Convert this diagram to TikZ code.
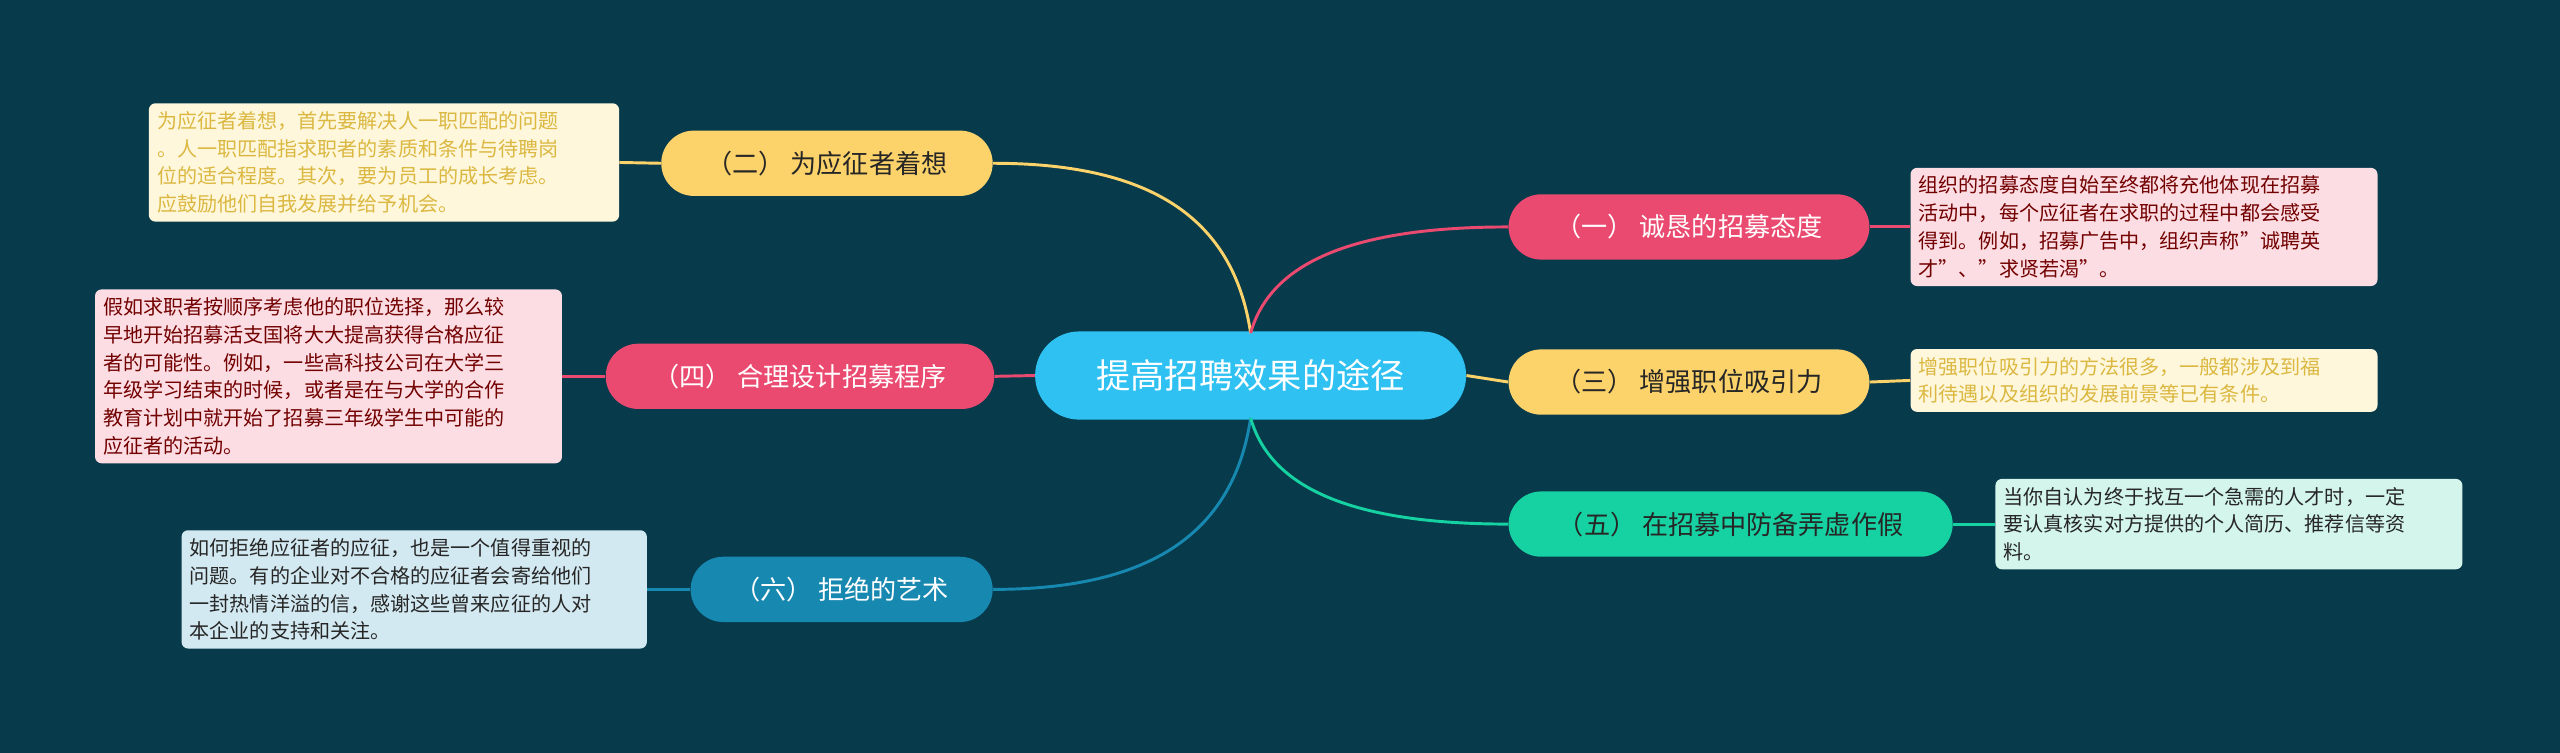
\documentclass[tikz,border=0pt]{standalone}
\usepackage{fontspec}
\setmainfont{Noto Sans CJK SC}
\begin{document}
\begin{tikzpicture}[x=1pt,y=-1pt,
  branch/.style={rounded corners=20pt,minimum height=40pt,font=\fontsize{16}{18}\selectfont,inner xsep=0pt},
  desc/.style={rounded corners=4pt,align=left,font=\fontsize{12.3}{17}\selectfont,inner sep=5pt,anchor=west},
  link/.style={line width=1.8pt}]
\definecolor{bg}{HTML}{073A4B}
\definecolor{cy}{HTML}{2EC1F2}
\definecolor{ye}{HTML}{FCD26A}
\definecolor{re}{HTML}{EA4A6F}
\definecolor{bl}{HTML}{1788B0}
\definecolor{gr}{HTML}{16D1A1}
\definecolor{yel}{HTML}{FFF7DC}
\definecolor{rel}{HTML}{FBDDE3}
\definecolor{bll}{HTML}{D3E9F1}
\definecolor{grl}{HTML}{D3F5EC}
\fill[bg] (0,0) rectangle (1568,461);
\useasboundingbox (0,0) rectangle (1568,461);
% center
\node[fill=cy,rounded corners=27pt,minimum width=264pt,minimum height=54pt,text=white,font=\fontsize{21}{24}\selectfont] (c) at (766,230) {提高招聘效果的途径};
\coordinate (ct) at (766,204);
\coordinate (cb) at (766,256);
% branches
\node[branch,fill=ye,minimum width=203pt,text=black!85] (b2) at (506.5,100) {（二） 为应征者着想};
\node[branch,fill=re,minimum width=238pt,text=white] (b4) at (490,230.5) {（四） 合理设计招募程序};
\node[branch,fill=bl,minimum width=185pt,text=white] (b6) at (515.5,361) {（六） 拒绝的艺术};
\node[branch,fill=re,minimum width=221pt,text=white] (b1) at (1034.5,139) {（一） 诚恳的招募态度};
\node[branch,fill=ye,minimum width=221pt,text=black!85] (b3) at (1034.5,234) {（三） 增强职位吸引力};
\node[branch,fill=gr,minimum width=272pt,text=black!85] (b5) at (1060,321) {（五） 在招募中防备弄虚作假};
% descriptions
\node[desc,fill=yel,text=yellow!40!brown,text width=278pt] (d2) at (91,99.5) {为应征者着想，首先要解决人一职匹配的问题\\。人一职匹配指求职者的素质和条件与待聘岗\\位的适合程度。其次，要为员工的成长考虑。\\应鼓励他们自我发展并给予机会。};
\node[desc,fill=rel,text=red!45!black,text width=276pt] (d4) at (58,230.5) {假如求职者按顺序考虑他的职位选择，那么较\\早地开始招募活支国将大大提高获得合格应征\\者的可能性。例如，一些高科技公司在大学三\\年级学习结束的时候，或者是在与大学的合作\\教育计划中就开始了招募三年级学生中可能的\\应征者的活动。};
\node[desc,fill=bll,text=black!85,text width=275pt] (d6) at (111,361) {如何拒绝应征者的应征，也是一个值得重视的\\问题。有的企业对不合格的应征者会寄给他们\\一封热情洋溢的信，感谢这些曾来应征的人对\\本企业的支持和关注。};
\node[desc,fill=rel,text=red!45!black,text width=276pt] (d1) at (1170,139) {组织的招募态度自始至终都将充他体现在招募\\活动中，每个应征者在求职的过程中都会感受\\得到。例如，招募广告中，组织声称"诚聘英\\才"、"求贤若渴"。};
\node[desc,fill=yel,text=yellow!40!brown,text width=276pt] (d3) at (1170,233) {增强职位吸引力的方法很多，一般都涉及到福\\利待遇以及组织的发展前景等已有条件。};
\node[desc,fill=grl,text=black!85,text width=276pt] (d5) at (1222,321) {当你自认为终于找互一个急需的人才时，一定\\要认真核实对方提供的个人简历、推荐信等资\\料。};
% links
\draw[link,ye] (ct) .. controls (755,130) and (700,100) .. (b2.east);
\draw[link,re] (c.west) -- (b4.east);
\draw[link,bl] (cb) .. controls (755,330) and (700,361) .. (b6.east);
\draw[link,re] (ct) .. controls (777,165) and (820,139) .. (b1.west);
\draw[link,ye] (c.east) -- (b3.west);
\draw[link,gr] (cb) .. controls (777,295) and (820,321) .. (b5.west);
\draw[link,ye] (b2.west) -- (d2.east);
\draw[link,re] (b4.west) -- (d4.east);
\draw[link,bl] (b6.west) -- (d6.east);
\draw[link,re] (b1.east) -- (d1.west);
\draw[link,ye] (b3.east) -- (d3.west);
\draw[link,gr] (b5.east) -- (d5.west);
\end{tikzpicture}
\end{document}
